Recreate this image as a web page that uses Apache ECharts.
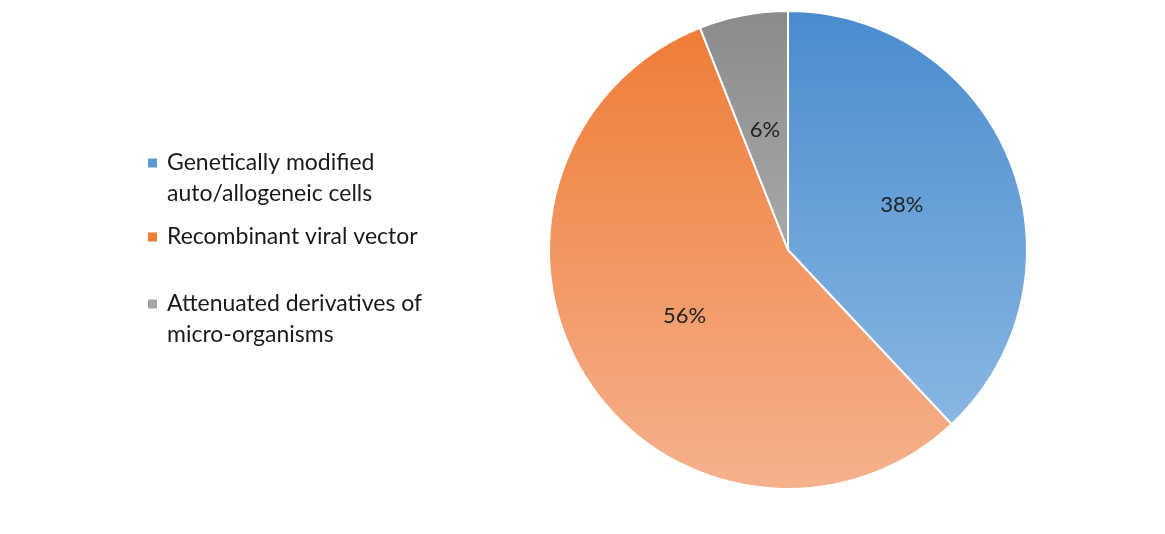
<!DOCTYPE html>
<html>
<head>
<meta charset="utf-8">
<script src="https://cdn.jsdelivr.net/npm/echarts@6/dist/echarts.min.js"></script>
<style>
html,body{margin:0;padding:0;background:#fff;}
#main{width:1165px;height:534px;}
</style>
</head>
<body>
<div id="main"></div>
<script>
var categories = ['Genetically modified\nauto/allogeneic cells', 'Recombinant viral vector', 'Attenuated derivatives of\nmicro-organisms'];
var values = [38, 56, 6];
var topColors = ['#4a8ccf', '#ef7b34', '#8a8b8d'];
var bottomColors = ['#93bde4', '#f5b18d', '#c6c6c8'];
var legendColors = ['#5b9bd5', '#ed7d31', '#a5a5a5'];

function grad(i) {
  return {type: 'linear', x: 0, y: 12, x2: 0, y2: 488, global: true,
    colorStops: [{offset: 0, color: topColors[i]}, {offset: 1, color: bottomColors[i]}]};
}

var chart = echarts.init(document.getElementById('main'), null, {renderer: 'canvas'});
var font = 'Lato, "Open Sans", sans-serif';
var legendTops = [147.5, 221.5, 288.5];
var legends = categories.map(function (c, i) {
  var twoLine = c.indexOf('\n') >= 0;
  return {
    data: [{name: c, itemStyle: {color: legendColors[i], borderWidth: 0}}],
    left: 148, top: legendTops[i], orient: 'vertical', padding: 0,
    icon: twoLine ? 'path://M0 0H9V9H0Z M0 40H9' : 'rect',
    itemWidth: 9, itemHeight: twoLine ? 40 : 9,
    selectedMode: false,
    textStyle: {fontFamily: font, fontSize: 23, color: '#1a1a1a', lineHeight: 31, padding: [0, 0, 0, 5]}
  };
});

chart.setOption({
  animation: false,
  backgroundColor: '#ffffff',
  legend: legends,
  series: [{
    type: 'pie',
    center: [788, 250],
    radius: 239,
    startAngle: 90,
    clockwise: true,
    data: categories.map(function (c, i) {
      return {name: c, value: values[i], itemStyle: {color: grad(i)}};
    }),
    itemStyle: {borderColor: '#ffffff', borderWidth: 2},
    label: {show: true, position: 'inside', formatter: '{c}%', fontFamily: font, fontSize: 22, color: '#222222'},
    labelLine: {show: false},
    emphasis: {disabled: true}
  }]
});
</script>
</body>
</html>
